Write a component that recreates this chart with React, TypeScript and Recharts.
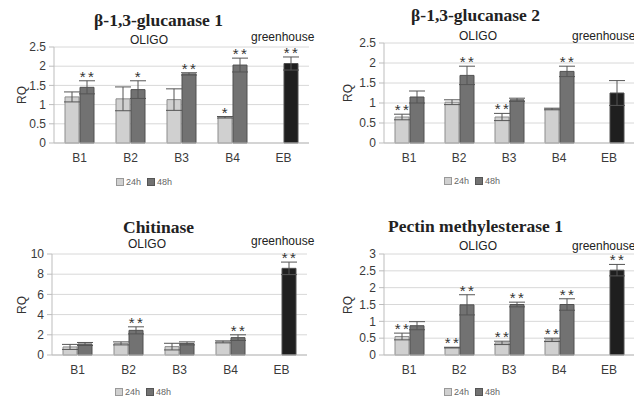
import { BarChart, Bar, XAxis, YAxis, CartesianGrid, ErrorBar, Cell, LabelList } from "recharts";

const categories = ["B1", "B2", "B3", "B4", "EB"];

// β-1,3-glucanase 1
const glu1_24 = [1.2, 1.15, 1.13, 0.67, null];
const glu1_24err = [0.13, 0.31, 0.28, 0.02, null];
const glu1_24stars = ["", "", "", "*", ""];
const glu1_48 = [1.45, 1.39, 1.8, 2.03, 2.07];
const glu1_48err = [0.17, 0.23, 0.03, 0.18, 0.17];
const glu1_48stars = ["**", "*", "**", "**", "**"];
const glu1_ticks = [0, 0.5, 1, 1.5, 2, 2.5];

// β-1,3-glucanase 2
const glu2_24 = [0.65, 1.02, 0.65, 0.85, null];
const glu2_24err = [0.07, 0.06, 0.09, 0.02, null];
const glu2_24stars = ["**", "", "**", "", ""];
const glu2_48 = [1.15, 1.69, 1.08, 1.79, 1.25];
const glu2_48err = [0.15, 0.23, 0.04, 0.13, 0.31];
const glu2_48stars = ["", "**", "", "**", ""];
const glu2_ticks = [0, 0.5, 1, 1.5, 2, 2.5];

// Chitinase
const chi_24 = [0.8, 1.15, 0.83, 1.3, null];
const chi_24err = [0.25, 0.15, 0.33, 0.1, null];
const chi_24stars = ["", "", "", "", ""];
const chi_48 = [1.09, 2.44, 1.15, 1.72, 8.58];
const chi_48err = [0.15, 0.35, 0.15, 0.28, 0.62];
const chi_48stars = ["", "**", "", "**", "**"];
const chi_ticks = [0, 2, 4, 6, 8, 10];

// Pectin methylesterase 1
const pme_24 = [0.55, 0.22, 0.36, 0.45, null];
const pme_24err = [0.1, 0.01, 0.05, 0.05, null];
const pme_24stars = ["**", "**", "**", "**", ""];
const pme_48 = [0.87, 1.49, 1.5, 1.5, 2.52];
const pme_48err = [0.12, 0.3, 0.07, 0.17, 0.17];
const pme_48stars = ["", "**", "**", "**", "**"];
const pme_ticks = [0, 0.5, 1, 1.5, 2, 2.5, 3];

const FILL_24 = "#d0d0d0";
const FILL_48 = "#727272";
const FILL_EB = "#1f1f1f";
const SANS = "'Liberation Sans', Arial, sans-serif";

type Panel = {
  title: string;
  left: number;
  top: number;
  plotLeft: number;
  plotTop: number;
  plotBottom: number;
  plotRight: number;
  ticks: number[];
  v24: (number | null)[];
  e24: (number | null)[];
  s24: string[];
  v48: number[];
  e48: number[];
  s48: string[];
  titleY: number;
  textY: number;
  ghY: number;
  legendY: number;
  legendX: number;
};

const panels: Panel[] = [
  {
    title: "β-1,3-glucanase 1", left: 0, top: 0, plotLeft: 54, plotTop: 47, plotBottom: 143, plotRight: 309,
    ticks: glu1_ticks, v24: glu1_24, e24: glu1_24err, s24: glu1_24stars, v48: glu1_48, e48: glu1_48err, s48: glu1_48stars,
    titleY: 20, textY: 40, ghY: 37, legendY: 182, legendX: 116,
  },
  {
    title: "β-1,3-glucanase 2", left: 317, top: 0, plotLeft: 67, plotTop: 43, plotBottom: 143, plotRight: 317,
    ticks: glu2_ticks, v24: glu2_24, e24: glu2_24err, s24: glu2_24stars, v48: glu2_48, e48: glu2_48err, s48: glu2_48stars,
    titleY: 15, textY: 36, ghY: 36, legendY: 181, legendX: 127,
  },
  {
    title: "Chitinase", left: 0, top: 200, plotLeft: 52, plotTop: 54, plotBottom: 155, plotRight: 307,
    ticks: chi_ticks, v24: chi_24, e24: chi_24err, s24: chi_24stars, v48: chi_48, e48: chi_48err, s48: chi_48stars,
    titleY: 27, textY: 44, ghY: 41, legendY: 192, legendX: 115,
  },
  {
    title: "Pectin methylesterase 1", left: 317, top: 200, plotLeft: 67, plotTop: 54, plotBottom: 155, plotRight: 317,
    ticks: pme_ticks, v24: pme_24, e24: pme_24err, s24: pme_24stars, v48: pme_48, e48: pme_48err, s48: pme_48stars,
    titleY: 26, textY: 46, ghY: 46, legendY: 192, legendX: 127,
  },
];

function starLabel(values: (number | null)[], errs: (number | null)[], stars: string[]) {
  return (props: any) => {
    const { x, y, width, height, index } = props;
    const s = stars[index];
    const v = values[index];
    if (!s || v == null) return null;
    const err = errs[index] ?? 0;
    const top = Number(y) - (err * Number(height)) / v;
    return (
      <text
        x={Number(x) + Number(width) / 2 + 1}
        y={top + 1}
        textAnchor="middle"
        fontSize={15}
        letterSpacing={2.5}
        fill="#333"
        fontFamily={SANS}
      >
        {s}
      </text>
    );
  };
}

function PanelChart({ p }: { p: Panel }) {
  const data = categories.map((c, i) => ({
    name: c,
    v24: p.v24[i],
    e24: p.e24[i],
    v48: p.v48[i],
    e48: p.e48[i],
  }));
  const width = 317;
  const height = 200;
  const xAxisH = 25;
  const max = p.ticks[p.ticks.length - 1];
  const isRight = p.left !== 0;
  return (
    <div style={{ position: "absolute", left: p.left, top: p.top, width, height }}>
      <BarChart
        width={width}
        height={height}
        data={data}
        barSize={14}
        barGap={1}
        margin={{ top: p.plotTop, right: width - p.plotRight, left: 0, bottom: height - p.plotBottom - xAxisH }}
      >
        <CartesianGrid vertical={false} stroke="#d8d8d8" />
        <XAxis
          dataKey="name"
          height={xAxisH}
          tickLine={false}
          tickSize={0}
          tickMargin={10}
          axisLine={{ stroke: "#bdbdbd" }}
          tick={{ fill: "#3a3a3a", fontSize: 12, fontFamily: SANS }}
        />
        <YAxis
          width={p.plotLeft}
          domain={[0, max]}
          ticks={p.ticks}
          interval={0}
          tickSize={5}
          tickMargin={3}
          axisLine={{ stroke: "#bdbdbd" }}
          tickLine={{ stroke: "#bdbdbd" }}
          tick={{ fill: "#3a3a3a", fontSize: 12, fontFamily: SANS }}
        />
        <Bar dataKey="v24" fill={FILL_24} stroke="#8c8c8c" strokeWidth={1} isAnimationActive={false}>
          <ErrorBar dataKey="e24" width={8} stroke="#555" strokeWidth={1} direction="y" />
          <LabelList dataKey="v24" content={starLabel(p.v24, p.e24, p.s24)} />
        </Bar>
        <Bar dataKey="v48" fill={FILL_48} stroke="#505050" strokeWidth={1} isAnimationActive={false}>
          {data.map((d) => (
            <Cell key={d.name} fill={d.name === "EB" ? FILL_EB : FILL_48} />
          ))}
          <ErrorBar dataKey="e48" width={8} stroke="#555" strokeWidth={1} direction="y" />
          <LabelList dataKey="v48" content={starLabel(p.v48, p.e48, p.s48)} />
        </Bar>
      </BarChart>
      <div
        style={{
          position: "absolute", left: 0, width: 317, top: p.titleY - 12, textAlign: "center",
          fontFamily: "'Liberation Serif', 'Times New Roman', serif", fontWeight: "bold", fontSize: 17.5, color: "#222",
          lineHeight: "24px", whiteSpace: "nowrap",
        }}
      >
        {p.title}
      </div>
      <div
        style={{
          position: "absolute", left: p.plotLeft + 2 + (isRight ? 32 : 33), width: 120, top: p.textY - 6, textAlign: "center",
          fontFamily: SANS, fontSize: 12, color: "#222", lineHeight: "12px",
        }}
      >
        OLIGO
      </div>
      <div
        style={{
          position: "absolute", left: isRight ? 255 : 251, top: p.ghY - 6,
          fontFamily: SANS, fontSize: 12, color: "#222", lineHeight: "12px", whiteSpace: "nowrap",
        }}
      >
        greenhouse
      </div>
      <div
        style={{
          position: "absolute", left: isRight ? 22 : 13, top: (p.plotTop + p.plotBottom) / 2 - 8,
          transform: "rotate(-90deg)", fontFamily: SANS, fontSize: 12, color: "#333", lineHeight: "16px",
        }}
      >
        RQ
      </div>
      <div
        style={{
          position: "absolute", left: p.legendX, top: p.legendY - 6, fontFamily: SANS, fontSize: 9,
          color: "#666", lineHeight: "12px", display: "flex", alignItems: "center", whiteSpace: "nowrap",
        }}
      >
        <span style={{ display: "inline-block", width: 6, height: 6, background: FILL_24, border: "1px solid #999", marginRight: 2 }} />
        <span style={{ marginRight: 6 }}>24h</span>
        <span style={{ display: "inline-block", width: 6, height: 6, background: FILL_48, border: "1px solid #555", marginRight: 2 }} />
        <span>48h</span>
      </div>
    </div>
  );
}

export default function App() {
  return (
    <div style={{ position: "absolute", left: 0, top: 0, width: 634, height: 399, overflow: "hidden", background: "#fff" }}>
      {panels.map((p) => (
        <PanelChart key={p.title} p={p} />
      ))}
    </div>
  );
}
